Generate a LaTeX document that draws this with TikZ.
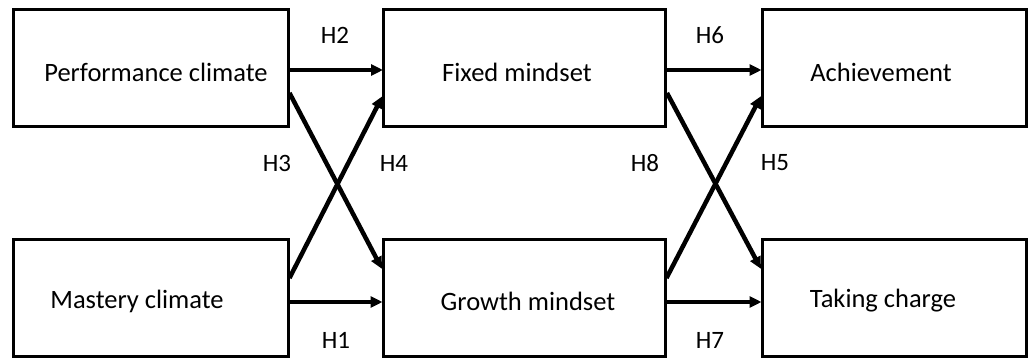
\documentclass[tikz,border=0pt]{standalone}
\usepackage{fontspec}
\setmainfont{Carlito}
\usetikzlibrary{arrows.meta}
\begin{document}
\begin{tikzpicture}[x=1pt,y=-1pt,
  box/.style={draw,line width=3pt,minimum width=275pt,minimum height=117pt,inner sep=0pt},
  txt/.style={font=\fontsize{26.5}{30}\selectfont},
  arr/.style={line width=4.5pt,-{Triangle[length=12pt,width=11pt]},shorten >=-1pt},
  lab/.style={font=\fontsize{25}{29}\selectfont}]
\useasboundingbox (0,0) rectangle (1029,358);
\node[box] (pc) at (150.5,68.5) {};
\node[box] (mc) at (150.5,298) {};
\node[box,minimum width=282pt] (fm) at (524.5,68.5) {};
\node[box,minimum width=282pt] (gm) at (524,298) {};
\node[box,minimum width=264pt] (ach) at (894,68.5) {};
\node[box,minimum width=264pt] (tc) at (894,298) {};
\node[txt] (tpc) at (156,72) {Performance climate};
\node[txt] (tmc) at (137,301) {Mastery climate};
\node[txt] (tfm) at (517,72) {Fixed mindset};
\node[txt] (tgm) at (528,301) {Growth mindset};
\node[txt] (tach) at (881,72) {Achievement};
\node[txt] (ttc) at (883,301) {Taking charge};
\draw[arr] (pc.east |- 0,70) -- (fm.west |- 0,70);
\draw[arr] (pc.east |- 0,93) -- (gm.west |- 0,268);
\draw[arr] (mc.east |- 0,278) -- (fm.west |- 0,97);
\draw[arr] (mc.east |- 0,302) -- (gm.west |- 0,302);
\draw[arr] (fm.east |- 0,70) -- (ach.west |- 0,70);
\draw[arr] (fm.east |- 0,93) -- (tc.west |- 0,268);
\draw[arr] (gm.east |- 0,278) -- (ach.west |- 0,97);
\draw[arr] (gm.east |- 0,302) -- (tc.west |- 0,302);
\node[lab] (h2) at (335,35) {H2};
\node[lab] (h3) at (277,163) {H3};
\node[lab] (h4) at (394,163) {H4};
\node[lab] (h1) at (336,340) {H1};
\node[lab] (h6) at (710,35) {H6};
\node[lab] (h8) at (645,163) {H8};
\node[lab] (h5) at (775,163) {H5};
\node[lab] (h7) at (710,340) {H7};
\end{tikzpicture}
\end{document}
